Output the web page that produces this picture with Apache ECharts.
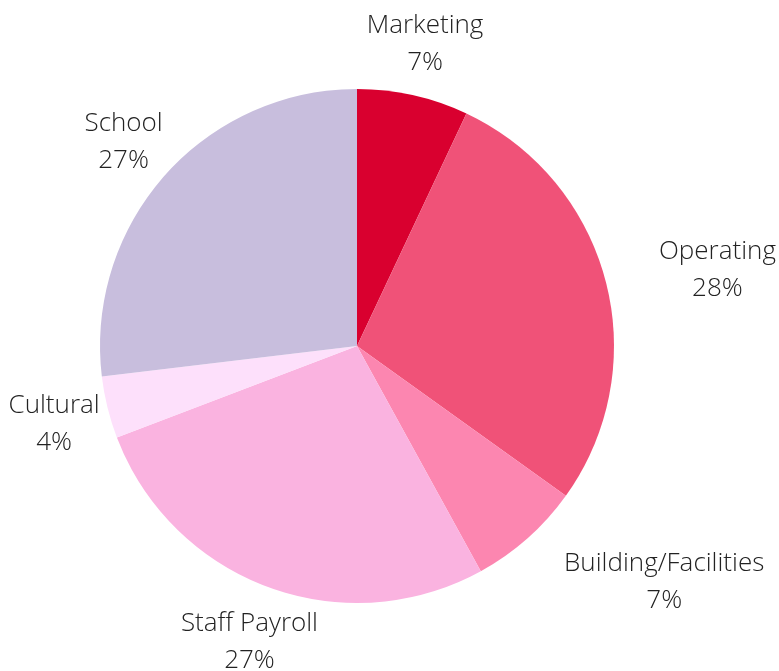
<!DOCTYPE html>
<html>
<head>
<meta charset="utf-8">
<script src="https://cdn.jsdelivr.net/npm/echarts@6/dist/echarts.min.js"></script>
<style>
  html, body { margin: 0; padding: 0; background: #fff; }
  #main { width: 779px; height: 671px; }
</style>
</head>
<body>
<div id="main"></div>
<script>
// budget split, clockwise from 12 o'clock
var categories = ['Marketing', 'Operating', 'Building/Facilities', 'Staff Payroll', 'Cultural', 'School'];
var shares = [7.0, 27.9, 7.1, 27.2, 3.9, 26.9];
var colors = ['#d9002f', '#f05278', '#fc86b0', '#fab3e0', '#fde0fb', '#c8bedd'];

var chartDom = document.getElementById('main');
var myChart = echarts.init(chartDom);

// how each label block hangs off its anchor point
var labelAlign = ['center', 'left', 'left', 'center', 'center', 'center'];

var seriesData = categories.map(function (name, i) {
    return { name: name, value: shares[i], itemStyle: { color: colors[i] } };
});

var option = {
    animation: false,
    series: [
        {
            type: 'pie',
            center: [357, 346],
            radius: 257,
            startAngle: 90,
            clockwise: true,
            avoidLabelOverlap: false,
            itemStyle: { borderWidth: 0 },
            emphasis: { disabled: true },
            label: {
                show: true,
                position: 'outside',
                distanceToLabelLine: 0,
                formatter: function (p) {
                    return '{t|' + p.name + '}\n{t|' + Math.round(p.percent) + '%}';
                },
                rich: {
                    t: {
                        fontFamily: '"Open Sans", sans-serif',
                        fontSize: 26,
                        fontWeight: 300,
                        color: '#222',
                        lineHeight: 37,
                        align: 'center'
                    }
                }
            },
            labelLine: { show: false, length: 55, length2: 0 },
            labelLayout: function (p) {
                var r = p.labelRect;
                var ax = p.align === 'right' ? r.x + r.width : (p.align === 'center' ? r.x + r.width / 2 : r.x);
                // small nudge down, text sits a little low in the original
                var ay = r.y + r.height / 2 + 3;
                return { x: ax, y: ay, align: labelAlign[p.dataIndex], verticalAlign: 'middle' };
            },
            data: seriesData
        }
    ]
};

option && myChart.setOption(option);
</script>
</body>
</html>
